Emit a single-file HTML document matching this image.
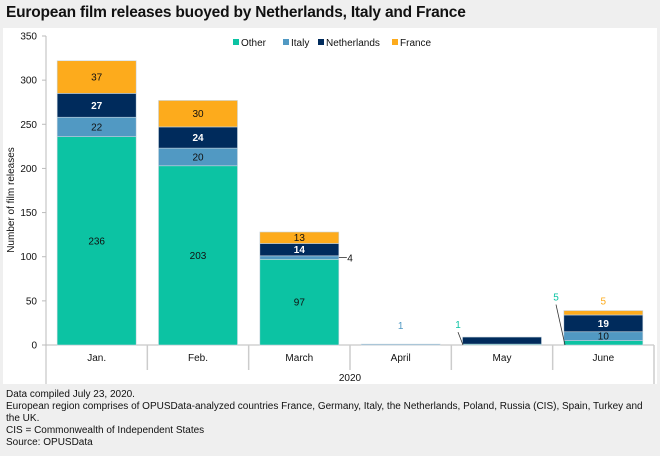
<!DOCTYPE html>
<html><head><meta charset="utf-8"><style>
html,body{margin:0;padding:0;}
body{width:660px;height:456px;background:#efefef;font-family:"Liberation Sans",sans-serif;position:relative;overflow:hidden;}
#title{position:absolute;left:6px;top:4px;font-size:15.5px;font-weight:bold;color:#111;letter-spacing:-0.2px;}
#panel{position:absolute;left:3px;top:28px;width:654px;height:356px;background:#fff;}
#notes{position:absolute;left:6px;top:389px;font-size:10px;line-height:12px;color:#111;}
svg{position:absolute;left:0;top:0;}
</style></head><body>
<div id="title">European film releases buoyed by Netherlands, Italy and France</div>
<div id="panel"></div>
<div id="notes">Data compiled July 23, 2020.<br>European region comprises of OPUSData-analyzed countries France, Germany, Italy, the Netherlands, Poland, Russia (CIS), Spain, Turkey and<br>the UK.<br>CIS = Commonwealth of Independent States<br>Source: OPUSData</div>
<svg id="chart" width="660" height="456"></svg>
<script>
const categories=["Jan.","Feb.","March","April","May","June"];
const seriesNames=["Other","Italy","Netherlands","France"];
const other=[236,203,97,0,1,5];
const italy=[22,20,4,1,0,10];
const netherlands=[27,24,14,0,8,19];
const france=[37,30,13,0,0,5];
const yTicks=[0,50,100,150,200,250,300,350];
const colors=["#0cc3a3","#5199c3","#002b5c","#fdab1c"];
const series=[other,italy,netherlands,france];
const NS="http://www.w3.org/2000/svg";
const svg=document.getElementById('chart');
const x0=46,x1=654,yZero=345,yTop=36,yMax=350;
const bw=(x1-x0)/categories.length;
const y=v=>yZero-(v/yMax)*(yZero-yTop);
const xc=i=>x0+bw*i+bw/2;
function el(t,a,txt){const e=document.createElementNS(NS,t);for(const k in a)e.setAttribute(k,a[k]);if(txt!==undefined)e.textContent=txt;svg.appendChild(e);return e;}
const ax=el('line',{x1:x0,y1:yTop,x2:x0,y2:384,stroke:'#bbb'});


yTicks.forEach(t=>{
  const tk=el('line',{x1:x0-4,y1:y(t),x2:x0,y2:y(t),stroke:'#bbb'});
  
  
  const lb=el('text',{x:x0-9,y:y(t)+3.5,'text-anchor':'end','font-size':10,fill:'#111'},t);
  
  
});
const yt=el('text',{x:0,y:0,transform:'translate(14,200) rotate(-90)','text-anchor':'middle','font-size':10,fill:'#111'},'Number of film releases');


const xa=el('line',{x1:x0,y1:yZero,x2:x1,y2:yZero,stroke:'#bbb'});


for(let i=1;i<=categories.length;i++){
  const s=el('line',{x1:x0+bw*i,y1:yZero,x2:x0+bw*i,y2:i===categories.length?384:370,stroke:'#ccc','stroke-width':1.5});
  
  
}
categories.forEach((c,i)=>{
  const t=el('text',{x:xc(i),y:361,'text-anchor':'middle','font-size':10,fill:'#111'},c);
  
  
});
const yr=el('text',{x:350,y:381,'text-anchor':'middle','font-size':10,fill:'#111'},'2020');


const barW=79;
categories.forEach((c,i)=>{
  let cum=0;
  series.forEach((s,k)=>{
    const v=s[i];if(v<=0)return;
    const r=el('rect',{x:xc(i)-barW/2,y:y(cum+v),width:barW,height:y(cum)-y(cum+v),fill:colors[k],stroke:'#c9d6df','stroke-width':0.6});
    
    
    if(v>=10){
      const t=el('text',{x:xc(i),y:(y(cum)+y(cum+v))/2+3.5,'text-anchor':'middle','font-size':10,fill:k===2?'#fff':'#111','font-weight':k===2?'bold':'normal'},v);
      
      
    }
    cum+=v;
  });
});
function callout(txt,color,tx,ty,lx1,ly1,lx2,ly2){
  if(lx1!==null){const l=el('line',{x1:lx1,y1:ly1,x2:lx2,y2:ly2,stroke:'#333','stroke-width':0.8});
    
    }
  const t=el('text',{x:tx,y:ty,'text-anchor':'middle','font-size':10,fill:color},txt);
  
  
}
const mi=y(other[2]+italy[2]/2);
callout(italy[2],'#111',350,mi+4,xc(2)+barW/2,mi,xc(2)+barW/2+8,mi);
callout(italy[3],colors[1],xc(3),y(italy[3])-15,null);
callout(other[4],colors[0],458,y(other[4])-16,458,y(other[4])-12,463,yZero);
callout(other[5],colors[0],556,y(other[5])-40,556,y(other[5])-36,565,yZero);
const jt=other[5]+italy[5]+netherlands[5]+france[5];
callout(france[5],colors[3],xc(5),y(jt)-6,null);
const lx=[233,283,318,392];
seriesNames.forEach((n,k)=>{
  const r=el('rect',{x:lx[k],y:39,width:6,height:6,fill:colors[k]});
  
  
  const t=el('text',{x:lx[k]+8,y:46,'font-size':10,fill:'#111'},n);
  
  
});
</script>
</body></html>
